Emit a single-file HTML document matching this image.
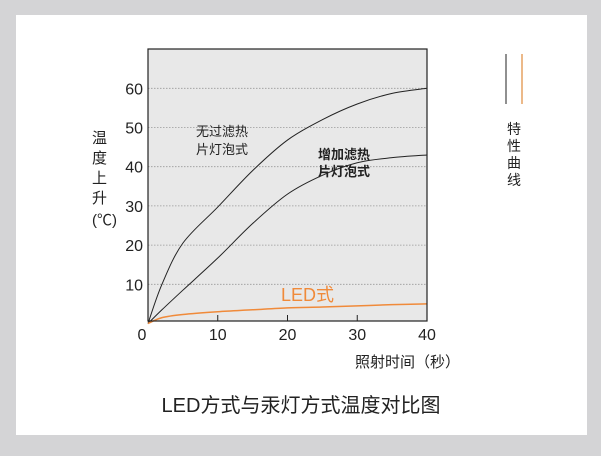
<!DOCTYPE html>
<html><head><meta charset="utf-8"><style>
body{margin:0;width:601px;height:451px;background:#d4d4d6;overflow:hidden}
svg text{font-family:"Liberation Sans","Noto Sans CJK SC",sans-serif}
</style></head><body>
<svg width="601" height="451">
<rect x="16" y="15" width="571" height="420" fill="#fff"/>
<rect x="148" y="49" width="279" height="272" fill="#e8e8e8"/>
<g id="grid"></g>
<g id="curves"></g>
<rect x="148" y="49" width="279" height="272" fill="none" stroke="#222" stroke-width="1.2"/>
<g id="ticks"></g>
<text x="196" y="136" font-size="13" fill="#222">无过滤热</text>
<text x="196" y="154" font-size="13" fill="#222">片灯泡式</text>
<text x="318" y="159" font-size="13" font-weight="bold" fill="#222">增加滤热</text>
<text x="318" y="176" font-size="13" font-weight="bold" fill="#222">片灯泡式</text>
<text x="281" y="301" font-size="18" fill="#f08a3a">LED式</text>
<text font-size="15" fill="#222"><tspan x="92" y="143">温</tspan><tspan x="92" y="163">度</tspan><tspan x="92" y="183">上</tspan><tspan x="92" y="203">升</tspan><tspan x="92" y="225">(℃)</tspan></text>
<text x="355" y="367" font-size="15" fill="#222">照射时间（秒）</text>
<text x="301" y="412" font-size="20" fill="#222" text-anchor="middle">LED方式与汞灯方式温度对比图</text>
<line x1="506" y1="54" x2="506" y2="104" stroke="#222" stroke-width="1"/>
<line x1="522" y1="54" x2="522" y2="104" stroke="#e08a3a" stroke-width="1.2"/>
<text font-size="14" fill="#222"><tspan x="507" y="134">特</tspan><tspan x="507" y="151">性</tspan><tspan x="507" y="168">曲</tspan><tspan x="507" y="185">线</tspan></text>
</svg>
<script>
const xs=[0,2,5,10,15,20,25,30,35,40];
const noFilter=[0,10,20.5,29.7,39,46.8,52,56,58.7,60];
const withFilter=[0,3.5,8.5,16.7,25.5,33,37.8,41,42.3,43];
const led=[0,1.5,2.3,3,3.5,4,4.2,4.5,4.8,5];
const yTicks=[10,20,30,40,50,60];
const xTicks=[0,10,20,30,40];
const ns="http://www.w3.org/2000/svg";
const X=v=>148+v*279/40, Y=v=>323.5-v*3.92;
const grid=document.getElementById('grid'),ticks=document.getElementById('ticks'),curves=document.getElementById('curves');
yTicks.forEach(t=>{
 const l=document.createElementNS(ns,'line');
 
 
 l.setAttribute('x1',148);l.setAttribute('x2',427);l.setAttribute('y1',Y(t));l.setAttribute('y2',Y(t));
 l.setAttribute('stroke','#999');l.setAttribute('stroke-dasharray','1.5,1.5');l.setAttribute('stroke-width','0.8');
 grid.appendChild(l);
 const tx=document.createElementNS(ns,'text');
 
 
 tx.setAttribute('x',143);tx.setAttribute('y',Y(t)+6);tx.setAttribute('text-anchor','end');tx.setAttribute('font-size','16');tx.setAttribute('fill','#222');
 tx.textContent=t;ticks.appendChild(tx);
});
xTicks.forEach(t=>{
 if(t>0&&t<40){const l=document.createElementNS(ns,'line');
 
 
 l.setAttribute('x1',X(t));l.setAttribute('x2',X(t));l.setAttribute('y1',315);l.setAttribute('y2',321);l.setAttribute('stroke','#222');
 ticks.appendChild(l);}
 const tx=document.createElementNS(ns,'text');
 
 
 tx.setAttribute('x',X(t)+(t==0?-6:0));tx.setAttribute('y',340);tx.setAttribute('text-anchor','middle');tx.setAttribute('font-size','16');tx.setAttribute('fill','#222');
 tx.textContent=t;ticks.appendChild(tx);
});
function path(vals){
 const p=xs.map((x,i)=>[X(x),Y(vals[i])]);
 let d='M'+p[0][0]+','+p[0][1];
 for(let i=0;i<p.length-1;i++){
  const p0=p[i-1]||p[i],p1=p[i],p2=p[i+1],p3=p[i+2]||p2;
  d+=' C'+(p1[0]+(p2[0]-p0[0])/6)+','+(p1[1]+(p2[1]-p0[1])/6)+' '+(p2[0]-(p3[0]-p1[0])/6)+','+(p2[1]-(p3[1]-p1[1])/6)+' '+p2[0]+','+p2[1];
 }
 return d;
}
[[noFilter,'#222','curve-no-filter',1],[withFilter,'#222','curve-with-filter',1],[led,'#f08a3a','curve-led',1.5]].forEach(([v,c,n,w])=>{
 const e=document.createElementNS(ns,'path');
 
 
 e.setAttribute('d',path(v));e.setAttribute('fill','none');e.setAttribute('stroke',c);e.setAttribute('stroke-width',w);
 curves.appendChild(e);
});
</script>
</body></html>
